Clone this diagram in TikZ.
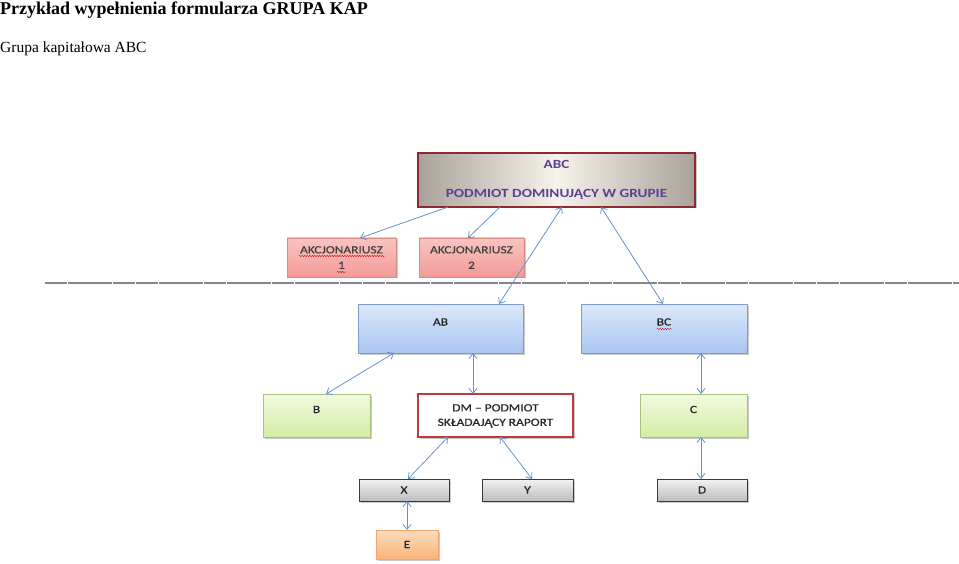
\documentclass[tikz,border=0pt]{standalone}
\usepackage{fontspec}
\setmainfont{Liberation Serif}
\newfontfamily\boxfont[FakeStretch=1.22,FakeBold=0.6]{Carlito}
\newfontfamily\boxfontbold[FakeStretch=1.22]{Carlito Bold}
\usetikzlibrary{arrows.meta,shadows,decorations.pathmorphing}
\definecolor{arrowblue}{HTML}{6592CC}
\definecolor{abcborder}{HTML}{8E2A32}
\definecolor{abcedge}{HTML}{A9A29A}
\definecolor{abcmid}{HTML}{F6F3EA}
\definecolor{abctext}{HTML}{5E3F95}
\definecolor{pinktop}{HTML}{FAC3C1}
\definecolor{pinkbot}{HTML}{F29B98}
\definecolor{pinkborder}{HTML}{D98A87}
\definecolor{bluetop}{HTML}{DCE8FB}
\definecolor{bluebot}{HTML}{A9C6F1}
\definecolor{blueborder}{HTML}{7C9DCB}
\definecolor{greentop}{HTML}{F2FADF}
\definecolor{greenbot}{HTML}{D3EDA6}
\definecolor{greenborder}{HTML}{A7C27B}
\definecolor{graytop}{HTML}{F2F2F2}
\definecolor{graybot}{HTML}{BDBDBD}
\definecolor{grayborder}{HTML}{3A3A3A}
\definecolor{orangetop}{HTML}{FDDCBB}
\definecolor{orangebot}{HTML}{F9B47C}
\definecolor{orangeborder}{HTML}{F0A66A}
\definecolor{dmred}{HTML}{C0393B}
\definecolor{boxtext}{HTML}{262626}
\definecolor{rulegray}{HTML}{858585}
\tikzset{
  box/.style={anchor=north west, inner sep=0pt, outer sep=0pt, align=center,
    font=\boxfont\fontsize{11}{15.5}\selectfont, text=boxtext,
    drop shadow={shadow xshift=1.5pt, shadow yshift=-1.5pt, opacity=0.35, fill=black!60}},
  abcbox/.style={box, draw=abcborder, line width=1.4pt, left color=abcedge, right color=abcedge, middle color=abcmid,
    text=abctext, font=\boxfontbold\fontsize{12.5}{29}\selectfont},
  pinkbox/.style={box, draw=pinkborder, line width=0.8pt, top color=pinktop, bottom color=pinkbot, text=black!75},
  bluebox/.style={box, draw=blueborder, line width=0.8pt, top color=bluetop, bottom color=bluebot},
  greenbox/.style={box, draw=greenborder, line width=0.8pt, top color=greentop, bottom color=greenbot},
  dmbox/.style={box, draw=dmred, line width=1.4pt, fill=white, drop shadow={opacity=0}},
  graybox/.style={box, draw=grayborder, line width=0.8pt, top color=graytop, bottom color=graybot},
  orangebox/.style={box, draw=orangeborder, line width=0.8pt, top color=orangetop, bottom color=orangebot},
  conn/.style={draw=arrowblue, line width=0.8pt, -{Straight Barb[length=5pt,width=8pt,line width=0.8pt]}},
  dconn/.style={draw=arrowblue, line width=0.8pt, {Straight Barb[length=5pt,width=8pt,line width=0.8pt]}-{Straight Barb[length=5pt,width=8pt,line width=0.8pt]}},
  squig/.style={draw=red!80!black, line width=0.4pt, decorate, decoration={snake, amplitude=0.6pt, segment length=2.5pt}},
}
\newcommand{\lift}[2]{\raisebox{#1}[0pt][0pt]{#2}}
\begin{document}
\begin{tikzpicture}[x=1pt,y=-1pt]
\useasboundingbox (0,0) rectangle (959,564);
% titles
\node[anchor=base west, inner sep=0pt, font=\bfseries\fontsize{18}{20}\selectfont] (title) at (0,15) {Przykład wypełnienia formularza GRUPA KAP};
\node[anchor=base west, inner sep=0pt, font=\fontsize{15.5}{18}\selectfont] (subtitle) at (0,53) {Grupa kapitałowa ABC};
% rule
\coordinate (ruleL) at (45,283);
\coordinate (ruleR) at (959,283);
\draw[rulegray, line width=1.6pt, dash pattern=on 22pt off 0.7pt] (ruleL) -- (ruleR);
% boxes
\node[abcbox, minimum width=277pt, minimum height=54pt] (abc) at (418,153) {ABC\\PODMIOT DOMINUJĄCY W GRUPIE};
\node[pinkbox, minimum width=109pt, minimum height=39pt] (ak1) at (287,238) {AKCJONARIUSZ\\1};
\node[pinkbox, minimum width=105pt, minimum height=39pt] (ak2) at (419,238) {AKCJONARIUSZ\\2};
\node[bluebox, minimum width=165pt, minimum height=49pt] (ab) at (358,304) {\lift{3pt}{AB}};
\node[bluebox, minimum width=166pt, minimum height=49pt] (bc) at (581,304) {\lift{3pt}{BC}};
\node[greenbox, minimum width=107pt, minimum height=43pt] (b) at (263,394) {\lift{2.5pt}{B}};
\node[dmbox, minimum width=155pt, minimum height=43pt] (dm) at (418,394) {\begin{tabular}{@{}c@{}}DM – PODMIOT\\[-1pt]SKŁADAJĄCY RAPORT\end{tabular}};
\node[greenbox, minimum width=107pt, minimum height=43pt] (c) at (640,394) {\lift{2.5pt}{C}};
\node[graybox, minimum width=90pt, minimum height=22pt] (x) at (359,479) {X};
\node[graybox, minimum width=91pt, minimum height=22pt] (y) at (482,479) {Y};
\node[graybox, minimum width=90pt, minimum height=22pt] (d) at (657,479) {D};
\node[orangebox, minimum width=62pt, minimum height=29pt] (e) at (376,530) {E};
% spell-check squiggles
\draw[squig] ([xshift=12pt,yshift=-18pt]ak1.north west) -- ([xshift=98pt,yshift=-18pt]ak1.north west);
\draw[squig] ([xshift=50pt,yshift=-34pt]ak1.north west) -- ([xshift=59pt,yshift=-34pt]ak1.north west);
\draw[squig] ([xshift=76pt,yshift=-25pt]bc.north west) -- ([xshift=91pt,yshift=-25pt]bc.north west);
% connectors
\draw[conn] ([xshift=30pt]abc.south west) -- ([xshift=73pt]ak1.north west);
\draw[conn] ([xshift=82pt]abc.south west) -- ([xshift=49pt]ak2.north west);
\draw[dconn] ([xshift=144pt]abc.south west) -- ([xshift=141pt]ab.north west);
\draw[dconn] ([xshift=183pt]abc.south west) -- ([xshift=82pt]bc.north west);
\draw[dconn] ([xshift=36pt]ab.south west) -- ([xshift=63pt]b.north west);
\draw[dconn] ([xshift=115pt]ab.south west) -- ([xshift=55pt]dm.north west);
\draw[dconn] ([xshift=120pt]bc.south west) -- ([xshift=61pt]c.north west);
\draw[dconn] ([xshift=30pt]dm.south west) -- ([xshift=49pt]x.north west);
\draw[dconn] ([xshift=82pt]dm.south west) -- ([xshift=50pt]y.north west);
\draw[dconn] ([xshift=61pt]c.south west) -- ([xshift=44pt]d.north west);
\draw[dconn] ([xshift=48pt]x.south west) -- ([xshift=31pt]e.north west);
\end{tikzpicture}
\end{document}
